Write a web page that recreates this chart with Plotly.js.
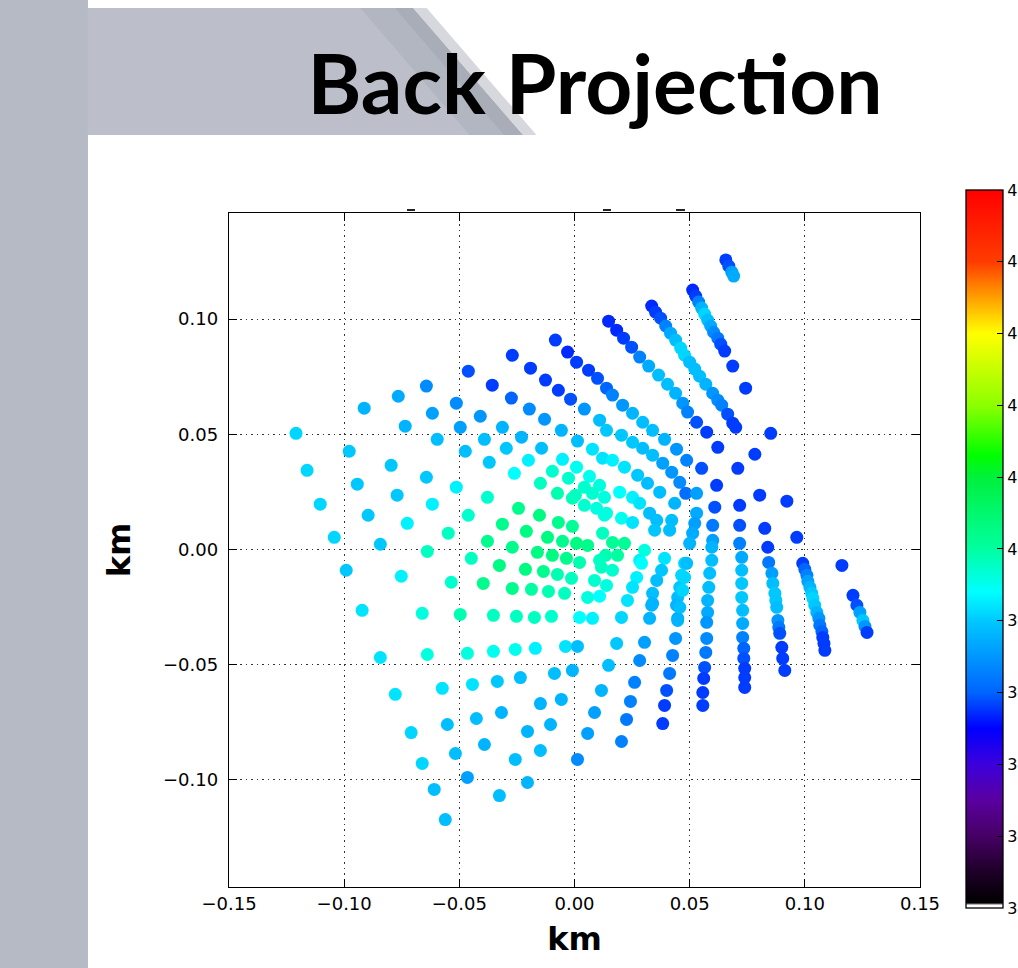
<!DOCTYPE html>
<html>
<head>
<meta charset="utf-8">
<script src="https://cdn.plot.ly/plotly-3.0.1.min.js"></script>
<style>html,body{margin:0;padding:0;background:#fff;}#chart{width:1018px;height:968px;}</style>
</head>
<body>
<div id="chart"></div>
<script>
// ---- data (km, km, value) ----
const westX = [-0.0083,-0.0030,0.0009,-0.0270,-0.0191,-0.0126,-0.0070,-0.0017,-0.0461,-0.0357,-0.0274,-0.0196,-0.0130,-0.0057,0.0013,-0.0643,-0.0765,-0.0913,-0.0617,-0.0513,-0.0409,-0.0313,-0.0230,-0.0143,-0.0052,-0.0735,-0.0596,-0.0496,-0.0391,-0.0296,-0.0200,-0.0096,-0.0026,-0.1209,-0.0978,-0.0474,-0.0370,-0.0261,-0.0148,-0.0074,-0.0009,-0.0796,-0.0643,-0.0513,-0.0378,-0.0243,-0.0152,-0.0070,-0.0009,-0.1161,-0.0943,-0.0770,-0.0617,-0.0461,-0.0313,-0.0209,-0.0117,-0.0052,-0.1104,-0.0896,-0.0726,-0.0548,-0.0378,-0.0270,-0.1043,-0.0843,-0.0639];
const westY = [0.0909,0.0857,0.0813,0.0843,0.0787,0.0735,0.0691,0.0652,0.0774,0.0713,0.0657,0.0609,0.0565,0.0517,0.0470,0.0709,0.0665,0.0613,0.0591,0.0635,0.0578,0.0530,0.0487,0.0439,0.0391,0.0535,0.0478,0.0530,0.0478,0.0439,0.0387,0.0339,0.0309,0.0504,0.0426,0.0426,0.0378,0.0330,0.0287,0.0243,0.0222,0.0365,0.0313,0.0270,0.0226,0.0178,0.0148,0.0117,0.0100,0.0343,0.0283,0.0235,0.0196,0.0148,0.0109,0.0078,0.0052,0.0035,0.0196,0.0148,0.0113,0.0070,0.0035,0.0009,0.0052,0.0022,-0.0009];
const westV = [37.8,37.7,37.8,37.8,37.8,37.8,37.8,37.9,37.9,37.8,38.0,38.4,38.5,38.8,38.9,38.4,38.7,38.8,38.6,38.4,38.5,38.8,38.8,38.9,39.3,38.8,38.9,38.6,38.9,39.0,39.3,39.7,39.7,39.1,39.0,38.9,39.0,39.4,39.8,39.9,39.9,39.0,39.0,39.3,39.7,40.2,40.3,40.2,40.1,39.1,39.0,39.0,39.3,39.7,40.2,40.3,40.3,40.2,39.1,39.0,39.3,39.8,40.2,40.2,39.1,39.0,39.8];

const coreX = [0.0043,0.0096,0.0130,0.0009,0.0057,0.0122,-0.0161,-0.0096,-0.0035,0.0022,-0.0448,-0.0326,-0.0213,-0.0135,-0.0074,-0.0013,0.0117,0.0087,0.0135,-0.0396,-0.0270,-0.0187,-0.0113,-0.0043,0.0057,0.0109,-0.0352,-0.0252,-0.0174,-0.0100,0.0022,0.0078,0.0009,0.0065,0.0109,0.0004,0.0043,0.0078,0.0078,0.0122,0.0043,0.0109,0.0139,0.0061,0.0100,0.0139,0.0165,0.0217,0.0187,0.0109,0.0165,0.0139,0.0130,0.0196,0.0139,0.0204];
const coreY = [0.0191,0.0178,0.0148,0.0026,0.0017,0.0070,-0.0013,-0.0026,-0.0039,-0.0057,-0.0039,-0.0070,-0.0087,-0.0096,-0.0109,-0.0126,-0.0078,-0.0135,-0.0026,-0.0148,-0.0170,-0.0174,-0.0183,-0.0191,-0.0209,-0.0204,-0.0287,-0.0291,-0.0296,-0.0291,-0.0296,-0.0300,0.0357,0.0317,0.0278,0.0235,0.0270,0.0243,0.0435,0.0396,0.0609,0.0561,0.0517,0.0778,0.0743,0.0700,0.0030,0.0026,-0.0026,-0.0048,-0.0091,-0.0157,0.0226,0.0248,0.0157,0.0135];
const coreV = [39.7,39.6,39.6,40.3,40.2,39.8,40.3,40.3,40.2,39.9,39.8,40.3,40.3,40.2,39.9,39.8,39.8,39.7,39.9,40.2,40.2,40.0,39.9,39.8,39.6,39.4,39.8,39.8,39.8,39.7,39.4,39.3,39.5,39.5,39.6,39.8,39.7,39.7,39.2,39.2,38.5,38.9,39.0,37.8,37.9,38.0,40.1,40.1,40.0,39.8,39.7,39.6,39.6,39.4,39.6,39.5];

const southX = [-0.0991,-0.0752,-0.0535,-0.0922,-0.0661,-0.0496,-0.0843,-0.0639,-0.0465,-0.0352,-0.0257,-0.0170,-0.0039,0.0013,-0.0778,-0.0574,-0.0443,-0.0335,-0.0235,-0.0087,-0.0009,-0.0709,-0.0552,-0.0426,-0.0317,-0.0148,-0.0057,-0.0661,-0.0517,-0.0391,-0.0257,-0.0204,-0.0104,-0.0148,0.0013,-0.0609,-0.0465,-0.0204,-0.0326,-0.0561];
const southY = [-0.0091,-0.0117,-0.0143,-0.0265,-0.0278,-0.0283,-0.0470,-0.0457,-0.0452,-0.0443,-0.0435,-0.0430,-0.0422,-0.0422,-0.0630,-0.0604,-0.0587,-0.0574,-0.0557,-0.0539,-0.0526,-0.0796,-0.0761,-0.0735,-0.0709,-0.0670,-0.0652,-0.0930,-0.0887,-0.0848,-0.0913,-0.0791,-0.0761,-0.0874,-0.0913,-0.1043,-0.0991,-0.1013,-0.1070,-0.1174];
const southV = [39.0,39.3,39.7,39.2,39.6,39.9,39.2,39.6,39.6,39.5,39.5,39.3,39.2,38.9,39.2,39.2,39.2,39.0,38.9,38.9,38.8,39.1,38.9,38.9,38.8,38.8,38.8,39.1,38.9,38.8,38.9,38.8,38.8,38.9,38.4,38.9,38.6,38.8,38.9,38.9];

const northEastX = [0.0657,0.0670,0.0683,0.0691,
 0.0513,0.0526,0.0539,0.0552,0.0565,0.0578,0.0591,0.0604,0.0622,0.0635,0.0652,0.0687,0.0743,
 0.0335,0.0352,0.0374,0.0396,0.0417,0.0439,0.0461,0.0478,0.0500,0.0522,0.0543,0.0570,0.0600,0.0622,0.0639,0.0665,0.0687,
 0.0148,0.0183,0.0213,0.0248,0.0283,0.0322,0.0365,0.0404,0.0439,0.0470,0.0491,0.0530,0.0574,0.0622,
 0.0165,0.0209,0.0252,0.0296,0.0339,0.0391,0.0443,0.0487,0.0552,0.0617,
 0.0204,0.0252,0.0296,0.0339,0.0383,0.0422,0.0457,0.0483,
 0.0165,0.0217,0.0274,0.0317,0.0370,
 0.0700];
const northEastY = [0.1257,0.1230,0.1204,0.1187,
 0.1126,0.1100,0.1074,0.1048,0.1022,0.0996,0.0970,0.0943,0.0917,0.0891,0.0861,0.0796,0.0700,
 0.1057,0.1030,0.1004,0.0970,0.0939,0.0909,0.0874,0.0843,0.0813,0.0783,0.0752,0.0717,0.0678,0.0648,0.0626,0.0587,0.0548,
 0.0991,0.0952,0.0917,0.0878,0.0835,0.0796,0.0757,0.0717,0.0678,0.0635,0.0596,0.0552,0.0509,0.0443,
 0.0670,0.0626,0.0591,0.0552,0.0517,0.0478,0.0435,0.0387,0.0352,0.0278,
 0.0496,0.0465,0.0439,0.0409,0.0374,0.0335,0.0291,0.0243,
 0.0387,0.0357,0.0322,0.0287,0.0248,
 0.0530];
const northEastV = [37.8,37.9,38.6,38.7,
 37.7,37.8,38.3,38.8,39.1,38.9,38.7,38.4,38.2,37.9,37.8,37.8,37.8,
 37.7,37.8,37.9,38.3,38.7,38.9,39.1,39.1,38.9,38.9,38.9,38.8,38.5,38.4,38.3,37.9,37.8,
 37.7,37.7,37.8,37.9,38.3,38.7,38.9,38.9,38.8,38.5,38.3,37.9,37.8,37.8,
 38.3,38.5,38.8,38.9,38.9,38.8,38.5,38.3,37.9,37.8,
 39.0,39.0,38.9,38.9,38.6,38.5,38.4,38.1,
 39.3,39.2,39.0,38.9,38.9,
 37.8];

const southEastX = [0.0252,0.0283,0.0326,0.0435,0.0530,0.0609,0.0252,0.0357,0.0422,0.0522,0.0600,0.0348,0.0413,0.0513,0.0600,0.0391,0.0283,0.0478,0.0378,0.0270,0.0465,0.0357,0.0252,0.0457,0.0339,0.0448,0.0230,0.0335,0.0443,0.0204,0.0326,0.0448,0.0530,
 0.0596,0.0596,0.0587,0.0583,0.0578,0.0578,0.0574,0.0574,0.0570,0.0565,0.0561,0.0557,0.0557,
 0.0709,0.0717,0.0717,0.0717,0.0726,0.0726,0.0726,0.0726,0.0730,0.0730,0.0730,0.0735,0.0735,0.0739,0.0739,0.0739,
 0.0783,0.0804,0.0826,0.0839,0.0843,0.0857,0.0861,0.0870,0.0874,0.0878,0.0883,0.0887,0.0891,0.0900,0.0904,0.0913,
 0.0852,0.0922,0.0965,0.0991,0.1000,0.1009,0.1013,0.1022,0.1030,0.1035,0.1043,0.1052,0.1061,0.1065,0.1074,0.1078,0.1083,0.1087,
 0.1161,0.1209,0.1226,0.1239,0.1252,0.1261,0.1270,
 0.0500,0.0487,0.0478,0.0470,0.0457,0.0448,0.0439,0.0426,0.0413,0.0400,0.0391,0.0383,
 0.0339,0.0304,0.0283,0.0261,0.0243,0.0226,0.0204,
 0.0304,0.0291,0.0183,0.0148,0.0117,0.0087,0.0057];
const southEastY = [0.0226,0.0200,0.0157,0.0200,0.0157,0.0183,0.0117,0.0126,0.0126,0.0113,0.0104,0.0083,0.0083,0.0070,0.0039,-0.0039,-0.0048,-0.0061,-0.0091,-0.0122,-0.0113,-0.0135,-0.0165,-0.0165,-0.0191,-0.0209,-0.0222,-0.0243,-0.0243,-0.0296,-0.0300,-0.0300,0.0243,
 0.0009,-0.0048,-0.0104,-0.0165,-0.0222,-0.0274,-0.0317,-0.0387,-0.0448,-0.0513,-0.0561,-0.0622,-0.0678,
 0.0352,0.0191,0.0104,0.0026,-0.0035,-0.0091,-0.0148,-0.0209,-0.0265,-0.0322,-0.0383,-0.0430,-0.0474,-0.0517,-0.0557,-0.0600,
 0.0413,0.0235,0.0091,0.0009,-0.0057,-0.0104,-0.0148,-0.0191,-0.0222,-0.0252,-0.0309,-0.0339,-0.0365,-0.0426,-0.0474,-0.0526,
 0.0504,0.0209,0.0052,-0.0061,-0.0087,-0.0113,-0.0139,-0.0165,-0.0191,-0.0213,-0.0243,-0.0274,-0.0300,-0.0330,-0.0357,-0.0383,-0.0409,-0.0439,
 -0.0070,-0.0200,-0.0243,-0.0274,-0.0309,-0.0335,-0.0361,
 0.0026,-0.0061,-0.0122,-0.0178,-0.0252,-0.0309,-0.0387,-0.0461,-0.0539,-0.0613,-0.0678,-0.0757,
 -0.0235,-0.0404,-0.0483,-0.0578,-0.0661,-0.0739,-0.0835,
 -0.0004,-0.0061,-0.0409,-0.0504,-0.0613,-0.0709,-0.0800];
const southEastV = [39.3,39.2,38.9,38.8,38.7,37.9,39.2,38.9,38.9,38.6,38.2,39.0,38.9,38.7,38.6,39.2,39.3,39.1,39.0,39.3,39.1,38.9,39.2,39.0,38.9,38.9,39.2,38.8,38.8,39.1,38.8,38.7,38.6,
 38.8,38.9,38.9,38.9,38.8,38.7,38.5,38.4,38.2,37.9,37.8,37.8,37.8,
 37.8,37.8,37.9,38.3,38.7,38.9,39.0,39.0,38.9,38.7,38.3,38.0,37.9,37.8,37.8,37.8,
 37.8,37.8,37.8,37.8,38.2,38.6,38.9,39.0,39.0,38.9,38.5,38.2,37.9,37.8,37.8,37.8,
 37.8,37.8,37.8,37.8,38.0,38.3,38.6,38.8,39.0,39.1,39.0,38.8,38.5,38.2,38.0,37.8,37.8,37.8,
 37.8,37.8,37.9,38.6,39.0,38.5,37.8,
 38.8,38.9,39.1,39.1,38.9,38.8,38.5,38.3,38.2,37.9,37.8,37.8,
 38.8,38.6,38.4,38.3,38.3,38.2,38.3,
 39.6,39.4,39.0,38.9,38.8,38.6,38.6];

const xTicks = [-0.15,-0.10,-0.05,0.00,0.05,0.10,0.15];
const yTicks = [-0.10,-0.05,0.00,0.05,0.10];
const cbTicks = [35,36,37,38,39,40,41,42,43,44,45];
// only the leading digit of each colour-bar label is visible in the slide
const cbTickText = ['3','3','3','3','3','4','4','4','4','4','4'];

// ---- chart ----
const allX = [].concat(westX, coreX, southX, northEastX, southEastX);
const allY = [].concat(westY, coreY, southY, northEastY, southEastY);
const allV = [].concat(westV, coreV, southV, northEastV, southEastV);

const cscale = [
 [0.000,'#ffffff'],[0.004,'#ffffff'],[0.007,'#000000'],[0.05,'#1e0028'],[0.10,'#460064'],[0.15,'#5a00a0'],[0.20,'#3c00dc'],
 [0.25,'#0000ff'],[0.30,'#0064ff'],[0.40,'#00c8ff'],[0.44,'#00ffff'],[0.50,'#00ffa0'],
 [0.60,'#00f03c'],[0.63,'#00ff00'],[0.70,'#8cff00'],[0.80,'#ffff00'],[0.86,'#ff8c00'],
 [0.90,'#ff3c00'],[1.00,'#ff0000']];

const trace = {
  type:'scatter', mode:'markers', x: allX, y: allY,
  hoverinfo:'skip',
  marker:{
    size:13, color: allV, cmin:35, cmax:45, colorscale: cscale, line:{width:0},
    showscale:true,
    colorbar:{
      thickness:37, thicknessmode:'pixels', len:718, lenmode:'pixels',
      x:1.0666, xref:'paper', xanchor:'left', xpad:0,
      y:0.5015, yref:'paper', yanchor:'middle', ypad:0,
      outlinewidth:1.3, outlinecolor:'#000',
      ticks:'inside', ticklen:6, tickcolor:'#000', tickwidth:1,
      tickvals: cbTicks, ticktext: cbTickText,
      tickfont:{family:'DejaVu Sans', size:16, color:'#000'}
    }
  }
};

const tickFont = {family:'DejaVu Sans', size:18, color:'#000'};
const gridDash = '1.5px,4px';
const layout = {
  width:1018, height:968,
  margin:{l:229, r:98, t:213, b:81, autoexpand:false},
  paper_bgcolor:'#ffffff', plot_bgcolor:'#ffffff',
  showlegend:false,
  title:{text:'<b>Back Projection</b>', font:{family:'Lato', size:82, color:'#000'},
         x:0.5297, xref:'paper', xanchor:'center', y:0.912, yref:'container', yanchor:'middle'},
  xaxis:{range:[-0.15,0.15], tickvals:xTicks, tickformat:'.2f', tickfont:tickFont,
         showgrid:true, gridcolor:'#333', griddash:gridDash, gridwidth:1.2, zeroline:false,
         showline:true, mirror:'ticks', linecolor:'#000', linewidth:1.3,
         ticks:'inside', ticklen:8, tickcolor:'#000', tickwidth:1.2,
         title:{text:'<b>km</b>', font:{family:'DejaVu Sans', size:32, color:'#000'}, standoff:14}},
  yaxis:{range:[-0.1467,0.1461], tickvals:yTicks, tickformat:'.2f', tickfont:tickFont,
         showgrid:true, gridcolor:'#333', griddash:gridDash, gridwidth:1.2, zeroline:false,
         showline:true, mirror:'ticks', linecolor:'#000', linewidth:1.3,
         ticks:'inside', ticklen:8, tickcolor:'#000', tickwidth:1.2, ticklabelstandoff:6,
         title:{text:'<b>km</b>', font:{family:'DejaVu Sans', size:32, color:'#000'}, standoff:22}},
  shapes:[
    {type:'rect', xref:'paper', yref:'paper', x0:-0.3314, x1:-0.2041, y0:-0.1202, y1:1.3160,
     fillcolor:'#b6bac5', line:{width:0}, layer:'below'},
    {type:'path', xref:'paper', yref:'paper', path:'M -0.2041,1.3042 L 0.2664,1.3042 L 0.4255,1.1157 L -0.2041,1.1157 Z',
     fillcolor:'#bcbfc9', line:{width:0}, layer:'below'},
    {type:'path', xref:'paper', yref:'paper', path:'M 0.1900,1.3042 L 0.2664,1.3042 L 0.4255,1.1157 L 0.3480,1.1157 Z',
     fillcolor:'#b2b6c0', line:{width:0}, layer:'below'},
    {type:'path', xref:'paper', yref:'paper', path:'M 0.2400,1.3042 L 0.2664,1.3042 L 0.4255,1.1157 L 0.3980,1.1157 Z',
     fillcolor:'#a9adb8', line:{width:0}, layer:'below'},
    {type:'path', xref:'paper', yref:'paper', path:'M 0.2664,1.3042 L 0.2860,1.3042 L 0.4450,1.1157 L 0.4255,1.1157 Z',
     fillcolor:'#d6d8de', line:{width:0}, layer:'below'},
    // fragments of a hidden plot title peeking above the frame
    {type:'rect', xref:'paper', yref:'paper', x0:0.2576, x1:0.2692, y0:1.0030, y1:1.0059, fillcolor:'#222', line:{width:0}},
    {type:'rect', xref:'paper', yref:'paper', x0:0.5412, x1:0.5528, y0:1.0030, y1:1.0059, fillcolor:'#222', line:{width:0}},
    {type:'rect', xref:'paper', yref:'paper', x0:0.6469, x1:0.6599, y0:1.0030, y1:1.0059, fillcolor:'#222', line:{width:0}}
  ]
};

Plotly.newPlot('chart', [trace], layout, {staticPlot:true, displayModeBar:false});
</script>
</body>
</html>
